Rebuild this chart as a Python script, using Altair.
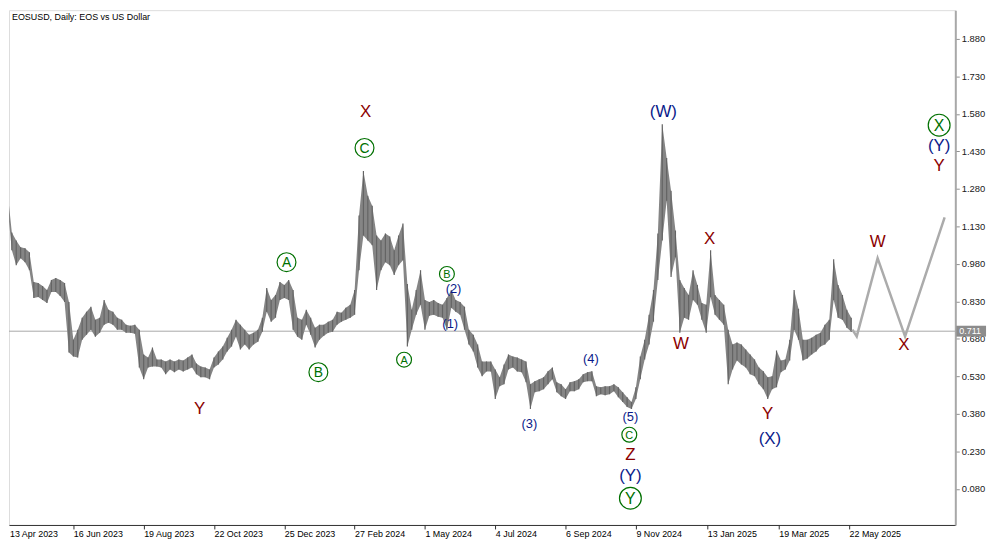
import altair as alt
import pandas as pd

# ---------------- data ----------------
START = "2023-04-13"
STEP_DAYS = 4

highs = [
    1.293, 1.273, 1.106, 1.074, 1.047, 1.043, 1.027, 0.908, 0.904, 0.892,
    0.876, 0.916, 0.924, 0.916, 0.904, 0.828, 0.677, 0.717, 0.765, 0.789,
    0.809, 0.757, 0.765, 0.836, 0.797, 0.789, 0.765, 0.757, 0.737, 0.733,
    0.737, 0.717, 0.618, 0.606, 0.646, 0.598, 0.598, 0.590, 0.598, 0.590,
    0.598, 0.594, 0.606, 0.618, 0.582, 0.570, 0.566, 0.558, 0.606, 0.630,
    0.650, 0.685, 0.717, 0.757, 0.737, 0.717, 0.697, 0.705, 0.717, 0.765,
    0.884, 0.836, 0.856, 0.908, 0.896, 0.916, 0.876, 0.765, 0.757, 0.797,
    0.765, 0.725, 0.737, 0.737, 0.749, 0.757, 0.789, 0.785, 0.805, 0.817,
    0.876, 1.174, 1.352, 1.253, 1.213, 1.094, 1.074, 1.102, 1.090, 1.035,
    1.094, 1.142, 0.900, 0.797, 0.876, 0.955, 0.836, 0.828, 0.836, 0.824,
    0.817, 0.844, 0.876, 0.836, 0.828, 0.809, 0.717, 0.697, 0.658, 0.590,
    0.590, 0.590, 0.558, 0.527, 0.578, 0.618, 0.610, 0.606, 0.598, 0.590,
    0.499, 0.511, 0.519, 0.527, 0.551, 0.566, 0.507, 0.499, 0.479, 0.507,
    0.511, 0.519, 0.539, 0.547, 0.551, 0.491, 0.487, 0.491, 0.491, 0.499,
    0.487, 0.467, 0.447, 0.428, 0.487, 0.610, 0.677, 0.777, 0.876, 1.102,
    1.539, 1.404, 1.273, 1.114, 0.916, 0.884, 0.856, 0.955, 0.896, 0.824,
    0.817, 1.035, 0.856, 0.836, 0.817, 0.717, 0.658, 0.666, 0.658, 0.638,
    0.618, 0.598, 0.566, 0.551, 0.527, 0.531, 0.634, 0.594, 0.598, 0.677,
    0.876, 0.801, 0.677, 0.677, 0.685, 0.697, 0.705, 0.737, 0.757, 0.999,
    0.896, 0.856, 0.797, 0.765,
]
lows = [
    1.220, 1.213, 1.035, 0.975, 1.003, 0.987, 0.955, 0.844, 0.848, 0.836,
    0.824, 0.868, 0.868, 0.852, 0.828, 0.626, 0.610, 0.606, 0.677, 0.697,
    0.717, 0.689, 0.705, 0.737, 0.745, 0.737, 0.717, 0.717, 0.705, 0.705,
    0.701, 0.566, 0.519, 0.566, 0.570, 0.570, 0.566, 0.539, 0.558, 0.547,
    0.558, 0.550, 0.558, 0.566, 0.539, 0.527, 0.527, 0.519, 0.566, 0.578,
    0.598, 0.630, 0.650, 0.689, 0.638, 0.658, 0.638, 0.658, 0.669, 0.709,
    0.789, 0.749, 0.765, 0.836, 0.844, 0.836, 0.717, 0.689, 0.677, 0.737,
    0.697, 0.646, 0.677, 0.693, 0.705, 0.709, 0.737, 0.749, 0.757, 0.765,
    0.777, 0.955, 1.094, 1.074, 1.055, 0.876, 0.955, 0.987, 0.975, 0.936,
    0.975, 0.995, 0.650, 0.717, 0.777, 0.817, 0.717, 0.773, 0.777, 0.769,
    0.765, 0.717, 0.805, 0.789, 0.777, 0.717, 0.658, 0.630, 0.566, 0.531,
    0.550, 0.550, 0.440, 0.491, 0.499, 0.558, 0.566, 0.550, 0.547, 0.507,
    0.400, 0.467, 0.471, 0.479, 0.499, 0.519, 0.467, 0.451, 0.440, 0.471,
    0.471, 0.479, 0.507, 0.511, 0.511, 0.451, 0.459, 0.455, 0.459, 0.471,
    0.447, 0.428, 0.408, 0.400, 0.440, 0.519, 0.598, 0.658, 0.749, 0.916,
    1.074, 1.233, 0.928, 1.007, 0.705, 0.765, 0.757, 0.836, 0.817, 0.757,
    0.705, 0.848, 0.777, 0.757, 0.737, 0.499, 0.558, 0.594, 0.578, 0.566,
    0.539, 0.531, 0.499, 0.479, 0.440, 0.479, 0.487, 0.547, 0.558, 0.594,
    0.717, 0.677, 0.594, 0.602, 0.618, 0.630, 0.650, 0.658, 0.677, 0.836,
    0.765, 0.757, 0.725, 0.709,
]

current_price = 0.711

# projected path (grey forecast line)
proj_dates = ["2025-05-25", "2025-05-29", "2025-06-17", "2025-07-12", "2025-08-17"]
proj_values = [0.717, 0.690, 1.003, 0.690, 1.166]

# wave labels
red_text = ["X", "Y", "Z", "W", "X", "Y", "W", "X", "Y"]
red_dates = ["2024-03-08", "2023-10-09", "2024-11-04", "2024-12-20", "2025-01-15",
             "2025-03-09", "2025-06-17", "2025-07-11", "2025-08-12"]
red_prices = [1.586, 0.400, 0.214, 0.658, 1.079, 0.380, 1.067, 0.654, 1.370]

navy_text = ["(W)", "(Y)", "(X)", "(Y)"]
navy_dates = ["2024-12-04", "2024-11-04", "2025-03-11", "2025-08-12"]
navy_prices = [1.586, 0.130, 0.281, 1.452]

minor_text = ["(1)", "(2)", "(3)", "(4)", "(5)"]
minor_dates = ["2024-05-24", "2024-05-27", "2024-08-04", "2024-09-29", "2024-11-04"]
minor_prices = [0.741, 0.880, 0.338, 0.599, 0.366]

circ_mid_text = ["A", "B", "C"]
circ_mid_dates = ["2023-12-27", "2024-01-25", "2024-03-07"]
circ_mid_prices = [0.987, 0.547, 1.444]

circ_small_text = ["A", "B", "C"]
circ_small_dates = ["2024-04-12", "2024-05-21", "2024-11-03"]
circ_small_prices = [0.597, 0.940, 0.297]

circ_big_text = ["Y", "X"]
circ_big_dates = ["2024-11-04", "2025-08-12"]
circ_big_prices = [0.043, 1.535]

y_ticks = [0.080, 0.230, 0.380, 0.530, 0.680, 0.830, 0.980, 1.130, 1.280,
           1.430, 1.580, 1.730, 1.880]
x_ticks = ["2023-06-16", "2023-08-19", "2023-10-22", "2023-12-25", "2024-02-27",
           "2024-05-01", "2024-07-04", "2024-09-06", "2024-11-09", "2025-01-13",
           "2025-03-19", "2025-05-22"]
first_tick_label = "13 Apr 2023"
title_text = "EOSUSD, Daily:  EOS vs US Dollar"

# ---------------- chart ----------------
W, H = 954, 519
FONT = "Liberation Sans"
RED = "#8b0000"
NAVY = "#0a1a8a"
GREEN = "#007000"

dates = pd.date_range(START, periods=len(highs), freq=f"{STEP_DAYS}D").strftime("%Y-%m-%d")
price_df = pd.DataFrame({"d": list(dates), "high": highs, "low": lows})
proj_df = pd.DataFrame({"d": proj_dates, "p": proj_values})
one = pd.DataFrame({"k": [0]})


def dt(s, h=0):
    y, m, d = (int(v) for v in s.split("-"))
    return alt.DateTime(year=y, month=m, date=d, hours=h, utc=True)


xscale = alt.Scale(type="utc", domain=[dt("2023-04-18", 10), dt("2025-08-26", 17)])
yscale = alt.Scale(domain=[-0.064, 1.995], nice=False, zero=False)

xaxis = alt.Axis(
    title=None, values=[dt(s) for s in x_ticks],
    labelExpr="utcFormat(datum.value, '%-d %b %Y')",
    labelAlign="left", labelPadding=1, labelFontSize=9, labelFont=FONT,
    labelColor="#000000", tickSize=4, tickColor="#303030", domainColor="#303030",
    labelOverlap=False, labelFlush=False, grid=False,
)
yaxis = alt.Axis(
    title=None, orient="right", values=y_ticks, format=".3f",
    labelFontSize=9.5, labelFont=FONT, labelColor="#202020", labelPadding=2,
    tickSize=4, tickColor="#909090", domainColor="#a8a8a8", domainWidth=2,
    grid=False,
)


def X(field):
    return alt.X(f"{field}:T", scale=xscale, axis=xaxis)


def Y(field):
    return alt.Y(f"{field}:Q", scale=yscale, axis=yaxis)


def Ydatum(v):
    return alt.Y(datum=v, type="quantitative", scale=yscale, axis=yaxis)


layers = []

# current price line
layers.append(
    alt.Chart(one).mark_rule(color="#a8a8a8", strokeWidth=1).encode(y=Ydatum(current_price))
)

# price band (high-low) with daily-bar texture
layers.append(
    alt.Chart(price_df).mark_area(color="#858585", opacity=1, clip=True,
                                  interpolate="linear").encode(
        x=X("d"), y=Y("high"), y2=alt.Y2("low")
    )
)
layers.append(
    alt.Chart(price_df).mark_rule(color="#646464", strokeWidth=1.2, clip=True).encode(
        x=X("d"), y=Y("high"), y2=alt.Y2("low")
    )
)

# projection
layers.append(
    alt.Chart(proj_df).mark_line(color="#ababab", strokeWidth=2.5).encode(
        x=X("d"), y=Y("p")
    )
)


def text_layer(texts, ds, ps, color, size):
    df = pd.DataFrame({"t": texts, "d": ds, "p": ps})
    return alt.Chart(df).mark_text(
        font=FONT, fontSize=size, color=color, baseline="middle", align="center"
    ).encode(x=X("d"), y=Y("p"), text="t:N")


def circle_layer(texts, ds, ps, diam, size):
    df = pd.DataFrame({"t": texts, "d": ds, "p": ps})
    base = alt.Chart(df).encode(x=X("d"), y=Y("p"))
    ring = base.mark_point(shape="circle", filled=False, size=diam * diam,
                           color=GREEN, strokeWidth=1.2, opacity=1)
    txt = base.mark_text(font=FONT, fontSize=size, color=GREEN, baseline="middle",
                         align="center", dy=1).encode(text="t:N")
    return [ring, txt]


layers.append(text_layer(red_text, red_dates, red_prices, RED, 17))
layers.append(text_layer(navy_text, navy_dates, navy_prices, NAVY, 17))
layers.append(text_layer(minor_text, minor_dates, minor_prices, NAVY, 13))
layers += circle_layer(circ_mid_text, circ_mid_dates, circ_mid_prices, 19, 14)
layers += circle_layer(circ_small_text, circ_small_dates, circ_small_prices, 15, 11)
layers += circle_layer(circ_big_text, circ_big_dates, circ_big_prices, 22, 16)

# current price tag on the right axis
layers.append(
    alt.Chart(one).mark_rule(color="#8c8c8c", strokeWidth=11).encode(
        x=alt.value(W + 1), x2=alt.value(W + 31), y=Ydatum(current_price),
    )
)
layers.append(
    alt.Chart(one).mark_text(
        text=f"{current_price:.3f}", font=FONT, fontSize=9, color="#ffffff",
        align="left", baseline="middle",
    ).encode(x=alt.value(W + 4), y=Ydatum(current_price))
)

# title and first date label
layers.append(
    alt.Chart(one).mark_text(
        text=title_text, font=FONT, fontSize=9, color="#000000",
        align="left", baseline="middle",
    ).encode(x=alt.value(3), y=alt.value(7))
)
layers.append(
    alt.Chart(one).mark_text(
        text=first_tick_label, font=FONT, fontSize=9, color="#000000",
        align="left", baseline="top",
    ).encode(x=alt.value(1), y=alt.value(H + 5))
)

chart = alt.layer(*layers).properties(
    width=W, height=H, padding=0, background="#ffffff"
).configure_view(stroke="#404040", strokeWidth=1).configure(font=FONT)

chart.save("out.html", embed_options={"renderer": "svg", "actions": False})
